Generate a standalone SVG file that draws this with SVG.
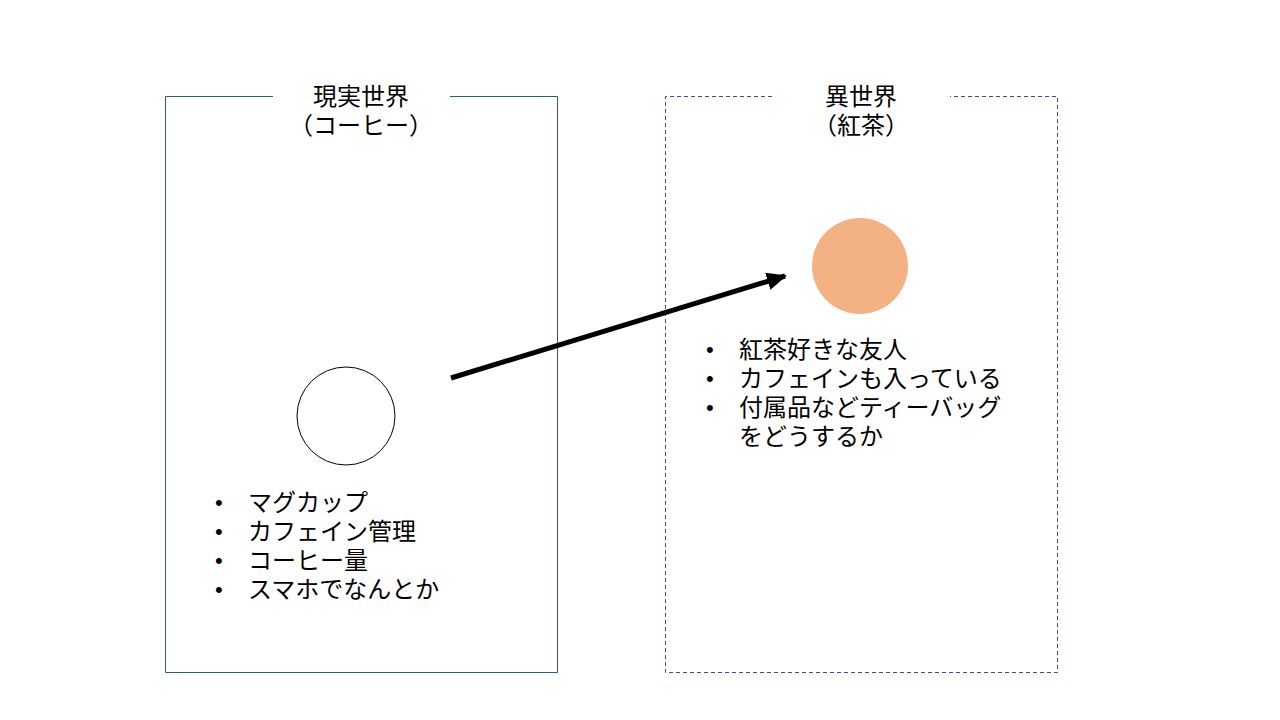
<svg xmlns="http://www.w3.org/2000/svg" width="1280" height="720" viewBox="0 0 1280 720">
<style>
  text { font-family: "Liberation Sans", "Noto Sans CJK JP", sans-serif; font-size: 24px; fill: #000; }
  .bullet { font-size: 22px; }
  .frame { fill: none; stroke: #2F5597; stroke-width: 1; }
  .dash { stroke-dasharray: 4 3; }
  .title { text-anchor: middle; }
</style>
<defs>
  <marker id="arrow" markerUnits="userSpaceOnUse" markerWidth="22" markerHeight="20" refX="18" refY="9" orient="auto">
    <path d="M0,0 L20,9 L0,18 Z" fill="#000"/>
  </marker>
</defs>
<rect width="1280" height="720" fill="#fff"/>
<g id="real-world">
  <path class="frame" d="M273,96.5 H165.5 V672.5 H557.5 V96.5 H450"/>
  <text class="title"><tspan x="361" y="105">現実世界</tspan><tspan x="361" y="134">（コーヒー）</tspan></text>
  <circle cx="346" cy="416" r="49" fill="#fff" stroke="#000" stroke-width="1"/>
  <text>
    <tspan class="bullet" x="215" y="510">•</tspan><tspan x="248" y="511">マグカップ</tspan>
    <tspan class="bullet" x="215" y="539">•</tspan><tspan x="248" y="540">カフェイン管理</tspan>
    <tspan class="bullet" x="215" y="568">•</tspan><tspan x="248" y="569">コーヒー量</tspan>
    <tspan class="bullet" x="215" y="597">•</tspan><tspan x="248" y="598">スマホでなんとか</tspan>
  </text>
</g>
<g id="other-world">
  <path class="frame dash" d="M772,96.5 H665.5 V672.5 H1057.5 V96.5 H950"/>
  <text class="title"><tspan x="861" y="105">異世界</tspan><tspan x="861" y="134">（紅茶）</tspan></text>
  <circle cx="860" cy="266" r="48" fill="#F4B183"/>
  <text>
    <tspan class="bullet" x="706" y="357">•</tspan><tspan x="739" y="358">紅茶好きな友人</tspan>
    <tspan class="bullet" x="706" y="386">•</tspan><tspan x="739" y="387">カフェインも入っている</tspan>
    <tspan class="bullet" x="706" y="415">•</tspan><tspan x="739" y="416">付属品などティーバッグ</tspan>
    <tspan x="739" y="445">をどうするか</tspan>
  </text>
</g>
<g id="connectors">
  <line x1="451" y1="378" x2="785" y2="276" stroke="#000" stroke-width="5" marker-end="url(#arrow)"/>
</g>
</svg>
